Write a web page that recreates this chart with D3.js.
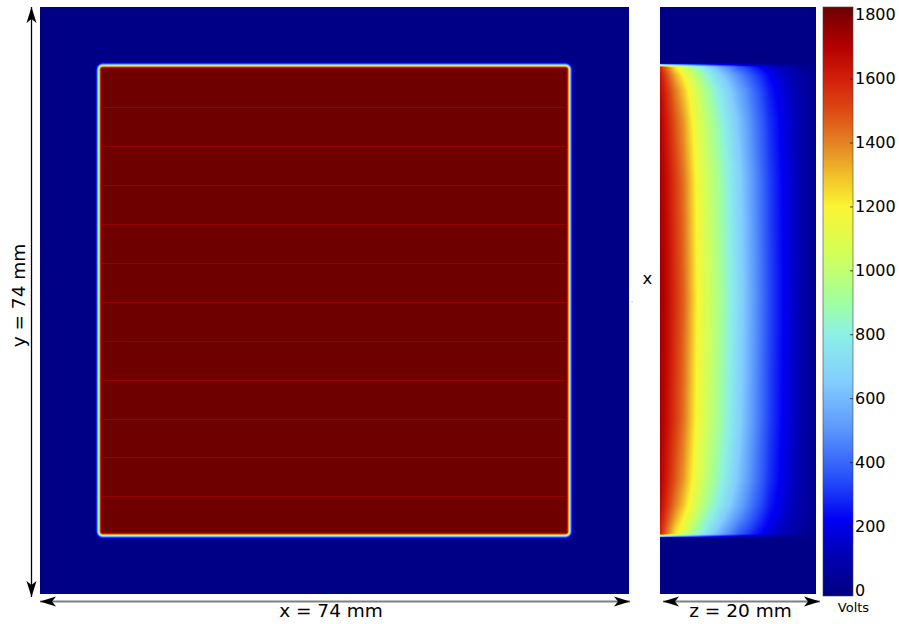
<!DOCTYPE html>
<html><head><meta charset="utf-8">
<script src="https://cdn.jsdelivr.net/npm/d3@7"></script>
<style>
body{margin:0;background:#fff;}
svg{display:block;}
text{font-family:"DejaVu Sans",sans-serif;fill:#000;}
</style>
</head><body>
<svg id="chart" width="899" height="624"></svg>
<script>
// ---------------- data ----------------
const voltsDomain = [-19, 1824];                 // colour range of the field
const colorbarTicks = [0, 200, 400, 600, 800, 1000, 1200, 1400, 1600, 1800];
// colour map as seen on the colour bar
const cmapVolts  = [-19, 100, 220, 350, 500, 650, 800, 900, 1050, 1200, 1300, 1400, 1500, 1600, 1700, 1824];
const cmapColors = ["#000080", "#0000af", "#0000f5", "#2850fa", "#5a96fc", "#82cdff", "#8cf0e6", "#a0ffa0",
                    "#d2ff5a", "#faf532", "#f0be28", "#e48223", "#dc4b14", "#d21e0a", "#b40000", "#6e0000"];
const panelXmm = [0, 74];                        // x = 74 mm
const panelYmm = [0, 74];                        // y = 74 mm
const panelZmm = [0, 20];                        // z = 20 mm
// electrode square (x-y plane)
const squareXmm = [7.3, 66.6];
const squareYmm = [7.3, 66.7];
const cornerRadiusMm = 0.6;
const edgeDistMm = [-0.45, -0.25, -0.1, 0, 0.12, 0.25, 0.4, 0.55];
const edgeVolts  = [0, 200, 450, 700, 1150, 1500, 1750, 1824];
// strip lines across the electrode
const stripLineYmm = [12.61, 17.52, 22.44, 27.36, 32.27, 37.19, 42.11, 47.03, 51.94, 56.73, 61.65];
const stripLineVolts = 1755;
// depth profile (z) in the side panel
const depthZmm       = [0, 1, 2, 3, 4, 5, 6, 7, 8, 10, 12, 14, 16, 18, 20];
const depthVoltsMid  = [1740, 1660, 1560, 1460, 1320, 1170, 1070, 990, 900, 715, 520, 340, 210, 100, 20];
const depthVoltsEdge = [1600, 1400, 1220, 1080, 950, 840, 730, 630, 540, 380, 270, 170, 105, 50, 10];
// how far each row is from the edge profile (0) to the middle profile (1)
const bendYmm    = [7.57, 8.58, 10.47, 14.25, 21.8, 36.9, 52.1, 59.6, 62.8, 64.7, 66.5];
const bendWeight = [0, 0.3, 0.55, 0.75, 0.92, 1, 0.92, 0.75, 0.55, 0.3, 0];
const rimDistMm  = [-0.25, 0, 0.25];
const rimFactor  = [0, 0.5, 1];

// ---------------- layout ----------------
const svg = d3.select("#chart");
const L = {x0: 40, x1: 629, y0: 7, y1: 594};
const R = {x0: 660, x1: 816};
const CB = {x0: 823, x1: 853, y0: 7, y1: 596};

const xScale = d3.scaleLinear().domain(panelXmm).range([L.x0, L.x1]);
const yScale = d3.scaleLinear().domain(panelYmm).range([L.y0, L.y1]);
const zScale = d3.scaleLinear().domain(panelZmm).range([R.x0, R.x1]);
const cbScale = d3.scaleLinear().domain(voltsDomain).range([CB.y1, CB.y0]);

const color = d3.scaleLinear().domain(cmapVolts).range(cmapColors).interpolate(d3.interpolateRgb).clamp(true);
const LUTN = 2048;
const lut = d3.range(LUTN).map(k => {
  const c = d3.rgb(color(voltsDomain[0] + (voltsDomain[1] - voltsDomain[0]) * k / (LUTN - 1)));
  return [c.r, c.g, c.b];
});
const lutIndex = d3.scaleLinear().domain(voltsDomain).range([0, LUTN - 1]).clamp(true);
function rgbOf(v) { return lut[Math.round(lutIndex(v))]; }

const edgeRamp = d3.scaleLinear().domain(edgeDistMm).range(edgeVolts).clamp(true);
const midProf = d3.scaleLinear().domain(depthZmm).range(depthVoltsMid).clamp(true);
const edgeProf = d3.scaleLinear().domain(depthZmm).range(depthVoltsEdge).clamp(true);
const bend = d3.scaleLinear().domain(bendYmm).range(bendWeight).clamp(true);
const rim = d3.scaleLinear().domain(rimDistMm).range(rimFactor).clamp(true);

function fieldImage(w, h, valueAt) {
  const cv = document.createElement("canvas");
  cv.width = w; cv.height = h;
  const ctx = cv.getContext("2d");
  const img = ctx.createImageData(w, h);
  for (let j = 0; j < h; j++) {
    for (let i = 0; i < w; i++) {
      const c = rgbOf(valueAt(i + 0.5, j + 0.5));
      const k = (j * w + i) * 4;
      img.data[k] = c[0]; img.data[k + 1] = c[1]; img.data[k + 2] = c[2]; img.data[k + 3] = 255;
    }
  }
  ctx.putImageData(img, 0, 0);
  return cv.toDataURL();
}

// ---- left panel: x-y plane ----
const cx = (squareXmm[0] + squareXmm[1]) / 2, cy = (squareYmm[0] + squareYmm[1]) / 2;
const hx = (squareXmm[1] - squareXmm[0]) / 2, hy = (squareYmm[1] - squareYmm[0]) / 2;
const leftW = L.x1 - L.x0, leftH = L.y1 - L.y0;
const leftURL = fieldImage(leftW, leftH, (i, j) => {
  const xm = xScale.invert(L.x0 + i), ym = yScale.invert(L.y0 + j);
  const qx = Math.abs(xm - cx) - (hx - cornerRadiusMm);
  const qy = Math.abs(ym - cy) - (hy - cornerRadiusMm);
  const out = Math.hypot(Math.max(qx, 0), Math.max(qy, 0)) + Math.min(Math.max(qx, qy), 0) - cornerRadiusMm;
  return edgeRamp(-out);
});
svg.append("image").attr("x", L.x0).attr("y", L.y0).attr("width", leftW).attr("height", leftH)
  .attr("href", leftURL).attr("preserveAspectRatio", "none");

svg.append("g").selectAll("line").data(stripLineYmm).join("line")
  .attr("x1", xScale(squareXmm[0] + 0.35)).attr("x2", xScale(squareXmm[1] - 0.35))
  .attr("y1", d => Math.round(yScale(d)) + 0.5).attr("y2", d => Math.round(yScale(d)) + 0.5)
  .attr("stroke", color(stripLineVolts)).attr("stroke-width", 1);

// ---- right panel: z-y plane ----
const rightW = R.x1 - R.x0;
const rightURL = fieldImage(rightW, leftH, (i, j) => {
  const zm = zScale.invert(R.x0 + i), ym = yScale.invert(L.y0 + j);
  const dy = Math.min(ym - squareYmm[0], squareYmm[1] - ym);
  const w = bend(ym);
  const v = edgeProf(zm) * (1 - w) + midProf(zm) * w;
  return v * rim(dy);
});
svg.append("image").attr("x", R.x0).attr("y", L.y0).attr("width", rightW).attr("height", leftH)
  .attr("href", rightURL).attr("preserveAspectRatio", "none");

// ---- colorbar ----
const defs = svg.append("defs");
const grad = defs.append("linearGradient").attr("id", "cbgrad")
  .attr("x1", 0).attr("y1", 1).attr("x2", 0).attr("y2", 0);
grad.selectAll("stop").data(cmapVolts.map((v, k) => ({v, c: cmapColors[k]}))).join("stop")
  .attr("offset", d => (d.v - voltsDomain[0]) / (voltsDomain[1] - voltsDomain[0]))
  .attr("stop-color", d => d.c);
svg.append("rect").attr("x", CB.x0).attr("y", CB.y0).attr("width", CB.x1 - CB.x0).attr("height", CB.y1 - CB.y0)
  .attr("fill", "url(#cbgrad)").attr("stroke", "#444").attr("stroke-width", 0.6);
const cbAxis = svg.append("g").attr("transform", `translate(${CB.x1},0)`)
  .call(d3.axisRight(cbScale).tickValues(colorbarTicks).tickSizeInner(-3).tickSizeOuter(0).tickPadding(2).tickFormat(d3.format("d")));
cbAxis.select(".domain").remove();
cbAxis.selectAll(".tick line").attr("stroke", "#222").attr("stroke-width", 0.8);
cbAxis.selectAll(".tick text").attr("font-size", 16).attr("font-family", "DejaVu Sans").attr("fill", "#000");
svg.append("text").attr("x", 853.5).attr("y", 612).attr("text-anchor", "middle").attr("font-size", 13).text("Volts");

// ---- dimension arrows ----
defs.append("marker").attr("id", "head").attr("viewBox", "-17 -6 18 12")
  .attr("refX", 0).attr("refY", 0).attr("markerWidth", 18).attr("markerHeight", 12)
  .attr("markerUnits", "userSpaceOnUse").attr("orient", "auto-start-reverse")
  .append("path").attr("d", "M0,0 L-16,-5 L-12,0 L-16,5 Z").attr("fill", "#000");

svg.append("line").attr("x1", 31.5).attr("x2", 31.5).attr("y1", 7).attr("y2", 597)
  .attr("stroke", "#000").attr("stroke-width", 1.3)
  .attr("marker-start", "url(#head)").attr("marker-end", "url(#head)");
svg.append("line").attr("x1", 40).attr("x2", 630).attr("y1", 601.5).attr("y2", 601.5)
  .attr("stroke", "#808080").attr("stroke-width", 2)
  .attr("marker-start", "url(#head)").attr("marker-end", "url(#head)");
svg.append("line").attr("x1", 663).attr("x2", 820).attr("y1", 601.5).attr("y2", 601.5)
  .attr("stroke", "#808080").attr("stroke-width", 2)
  .attr("marker-start", "url(#head)").attr("marker-end", "url(#head)");

// ---- labels ----
svg.append("text").attr("x", 331).attr("y", 617).attr("text-anchor", "middle").attr("font-size", 18.5).text("x = 74 mm");
svg.append("text").attr("x", 740.5).attr("y", 617).attr("text-anchor", "middle").attr("font-size", 18.5).text("z = 20 mm");
svg.append("text").attr("transform", "translate(25,295.5) rotate(-90)").attr("text-anchor", "middle")
  .attr("font-size", 18.5).text("y = 74 mm");
svg.append("text").attr("x", 647.5).attr("y", 284).attr("text-anchor", "middle").attr("font-size", 16.5).text("x");
svg.append("text").attr("x", 632).attr("y", 302).attr("text-anchor", "middle").attr("font-size", 5).attr("fill", "#666").text(",");
</script>
</body></html>
